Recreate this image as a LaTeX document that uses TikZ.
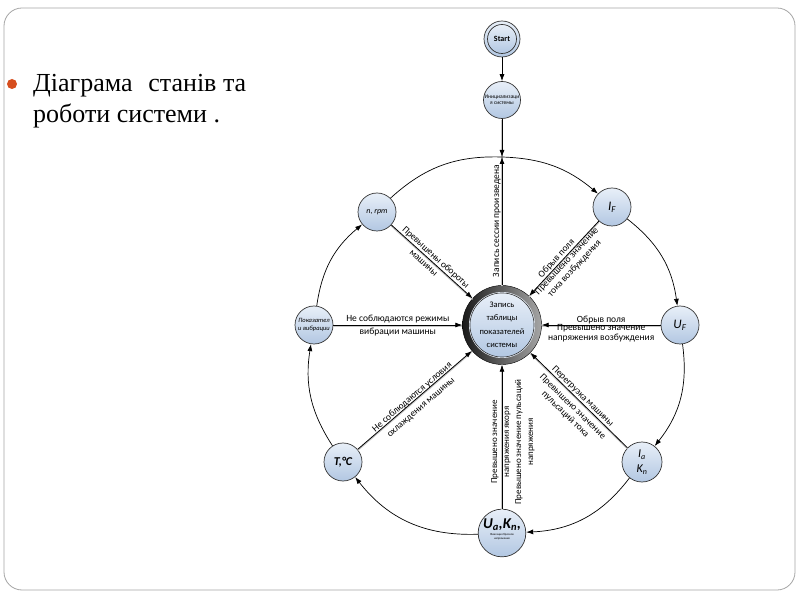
\documentclass[tikz,border=0pt]{standalone}
\usepackage{fontspec}
\setmainfont{Carlito}
\usetikzlibrary{arrows.meta}
\definecolor{nodetop}{RGB}{232,239,248}
\definecolor{nodebot}{RGB}{178,199,226}
\definecolor{bulletc}{RGB}{214,78,30}
\definecolor{framec}{RGB}{165,165,165}
\begin{document}
\begin{tikzpicture}[x=1pt,y=1pt,
  state/.style={circle, draw=black!80, line width=0.7pt, top color=nodetop, bottom color=nodebot, minimum size=38pt, inner sep=0pt, align=center, font=\itshape\fontsize{8}{9}\selectfont},
  ring/.style={draw, line width=0.7pt, -{Latex[length=7pt,width=5pt]}},
  spoke/.style={draw, line width=0.8pt, -{Latex[length=7pt,width=5pt]}, preaction={draw=black!22, line width=1.4pt, transform canvas={yshift=-1pt}, -}},
  lab/.style={font=\fontsize{9.5}{10.5}\selectfont, inner sep=1pt, align=center},
  ttl/.style={anchor=base west, inner sep=0pt, font={\fontspec{Liberation Serif}\fontsize{26}{30}\selectfont}}
]
\useasboundingbox (0,0) rectangle (800,600);
\draw[framec, line width=0.8pt, rounded corners=18pt] (4,10) rectangle (795,592);
% bullet and title
\fill[bulletc] (12,516) circle (5);
\node[ttl] (t1) at (33,508) {Діаграма\hspace{0.6em}станів та};
\node[ttl] (t2) at (33,477) {роботи системи .};
% nodes
\node[state, minimum size=36pt] (start) at (502,561) {};
\node[state, minimum size=29pt, font=\bfseries\fontsize{8}{9}\selectfont] (startin) at (start) {Start};
\node[state, minimum size=37pt, font=\fontsize{5.5}{6.5}\selectfont] (init) at (502,500) {Инициализаци\\я системы};
\coordinate (top) at (502,443);
\node[circle, minimum size=79pt, inner sep=0pt, draw=black, left color=black!90, right color=black!35] (C) at (502,275) {};
\node[circle, minimum size=66pt, inner sep=0pt, fill=nodetop] (Cw) at (C) {};
\node[state, minimum size=62pt, line width=0.6pt, font=\fontsize{8.5}{13.5}\selectfont] (Cin) at (C) {Запись\\таблицы\\показателей\\системы};
\node[state] (nrpm) at (377,388) {n, rpm};
\node[state, font=\itshape\fontsize{13}{14}\selectfont] (IF) at (612,393) {I\textsubscript{F}};
\node[state, font=\itshape\fontsize{13}{14}\selectfont] (UF) at (680,275) {U\textsubscript{F}};
\node[state, minimum size=40pt, font=\itshape\fontsize{12}{15}\selectfont] (Ia) at (642,138) {I\textsubscript{a}\\K\textsubscript{n}};
\node[state, minimum size=40pt, font=\fontsize{3}{3.5}\selectfont] (Ua) at (502,67) {{\bfseries\itshape\fontsize{15}{15}\selectfont U\textsubscript{a},K\textsubscript{n},}\\[2pt]Фиксация бросков\\напряжения\\[5pt]};
\node[state, font=\bfseries\itshape\fontsize{12}{13}\selectfont] (T) at (343,138) {T,°C};
\node[state, font=\itshape\fontsize{6.5}{8}\selectfont] (vib) at (314,275) {Показател\\и вибрации};
% top chain
\draw[ring] (start) -- (init);
\draw[spoke] (init) -- (top);
\draw[spoke] (C) -- (top) node[lab, midway, above, sloped] {Запись сессии произведена};
% ring
\draw[ring] (nrpm) to[bend left=22] (top) to[bend left=19] (IF);
\draw[ring] (IF) to[bend left=22] (UF);
\draw[ring] (UF) to[bend left=23] (Ia);
\draw[ring] (Ia) to[bend left=25] (Ua);
\draw[ring] (Ua) to[bend left=27] (T);
\draw[ring] (T) to[bend left=21] (vib);
\draw[ring] (vib) to[bend left=21] (nrpm);
% spokes
\draw[spoke] (nrpm) -- (C) node[lab, midway, above, sloped] {Превышены обороты} node[lab, pos=0.45, below=3pt, sloped] {машины};
\draw[spoke] (IF) -- (C) node[lab, pos=0.55, above, sloped] {Обрыв поля} node[lab, midway, below=-1pt, sloped] {Превышено значение\\тока возбуждения};
\draw[spoke] (UF) -- (C) node[lab, midway, above] {Обрыв поля} node[lab, midway, below=-2pt] {Превышено значение\\напряжения возбуждения};
\draw[spoke] (vib) -- (C) node[lab, midway, above=1pt] {Не соблюдаются режимы} node[lab, midway, below=2pt] {вибрации машины};
\draw[spoke] (T) -- (C) node[lab, midway, above=-1.5pt, sloped] {Не соблюдаются условия} node[lab, midway, below=6pt, sloped] {охлаждения машины};
\draw[spoke] (Ia) -- (C) node[lab, midway, above, sloped] {Перегрузка машины} node[lab, midway, below=4pt, sloped] {Превышено значение\\пульсаций тока};
\draw[spoke] (Ua) -- (C);
\node[lab, rotate=90, font=\fontsize{9}{12}\selectfont] (ualab) at (513,158) {Превышено значение\\напряжения якоря\\Превышено значение пульсаций\\напряжения};
\end{tikzpicture}
\end{document}
